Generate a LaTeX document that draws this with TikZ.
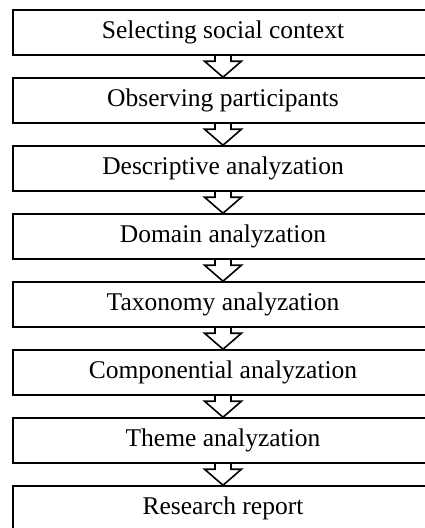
\documentclass[tikz,border=0pt]{standalone}
\usepackage{fontspec}
\setmainfont{Liberation Serif}
\tikzstyle{rectpaso} = [rectangle, minimum width=420pt, minimum height=45pt, text centered, draw=black, line width=1.6pt, font=\fontsize{25.5}{30}\selectfont]
\tikzstyle{flecha} = [line width=1.6pt, line join=miter]

\begin{document}
\begin{tikzpicture}[node distance=68pt, auto]
    \clip (0,0) rectangle (425pt,-528pt);
    	% Cuadros
    	\node (contexto) [rectpaso] at (223pt,-32.5pt) {Selecting social context};
    	\node (observar) [rectpaso,below of=contexto] {Observing participants};
    	\node (descriptivo) [rectpaso,below of=observar] {Descriptive analyzation};
    	\node (dominio) [rectpaso,below of=descriptivo] {Domain analyzation};
    	\node (taxonomia) [rectpaso,below of=dominio] {Taxonomy analyzation};
    	\node (componente) [rectpaso,below of=taxonomia] {Componential analyzation};
    	\node (tema) [rectpaso,below of=componente] {Theme analyzation};
    	\node (reporte) [rectpaso,below of=tema] {Research report};
    	% Flechas
        \draw[flecha] ([xshift=-8pt]contexto.south) |- ([xshift=-18.5pt,yshift=16pt]observar.north) -- (observar.north) -- ([xshift=18.5pt,yshift=16pt]observar.north) -| ([xshift=8pt]contexto.south);
        \draw[flecha] ([xshift=-8pt]observar.south) |- ([xshift=-18.5pt,yshift=16pt]descriptivo.north) -- (descriptivo.north) -- ([xshift=18.5pt,yshift=16pt]descriptivo.north) -| ([xshift=8pt]observar.south);
        \draw[flecha] ([xshift=-8pt]descriptivo.south) |- ([xshift=-18.5pt,yshift=16pt]dominio.north) -- (dominio.north) -- ([xshift=18.5pt,yshift=16pt]dominio.north) -| ([xshift=8pt]descriptivo.south);
        \draw[flecha] ([xshift=-8pt]dominio.south) |- ([xshift=-18.5pt,yshift=16pt]taxonomia.north) -- (taxonomia.north) -- ([xshift=18.5pt,yshift=16pt]taxonomia.north) -| ([xshift=8pt]dominio.south);
        \draw[flecha] ([xshift=-8pt]taxonomia.south) |- ([xshift=-18.5pt,yshift=16pt]componente.north) -- (componente.north) -- ([xshift=18.5pt,yshift=16pt]componente.north) -| ([xshift=8pt]taxonomia.south);
        \draw[flecha] ([xshift=-8pt]componente.south) |- ([xshift=-18.5pt,yshift=16pt]tema.north) -- (tema.north) -- ([xshift=18.5pt,yshift=16pt]tema.north) -| ([xshift=8pt]componente.south);
        \draw[flecha] ([xshift=-8pt]tema.south) |- ([xshift=-18.5pt,yshift=16pt]reporte.north) -- (reporte.north) -- ([xshift=18.5pt,yshift=16pt]reporte.north) -| ([xshift=8pt]tema.south);
    
    \end{tikzpicture}
\end{document}
